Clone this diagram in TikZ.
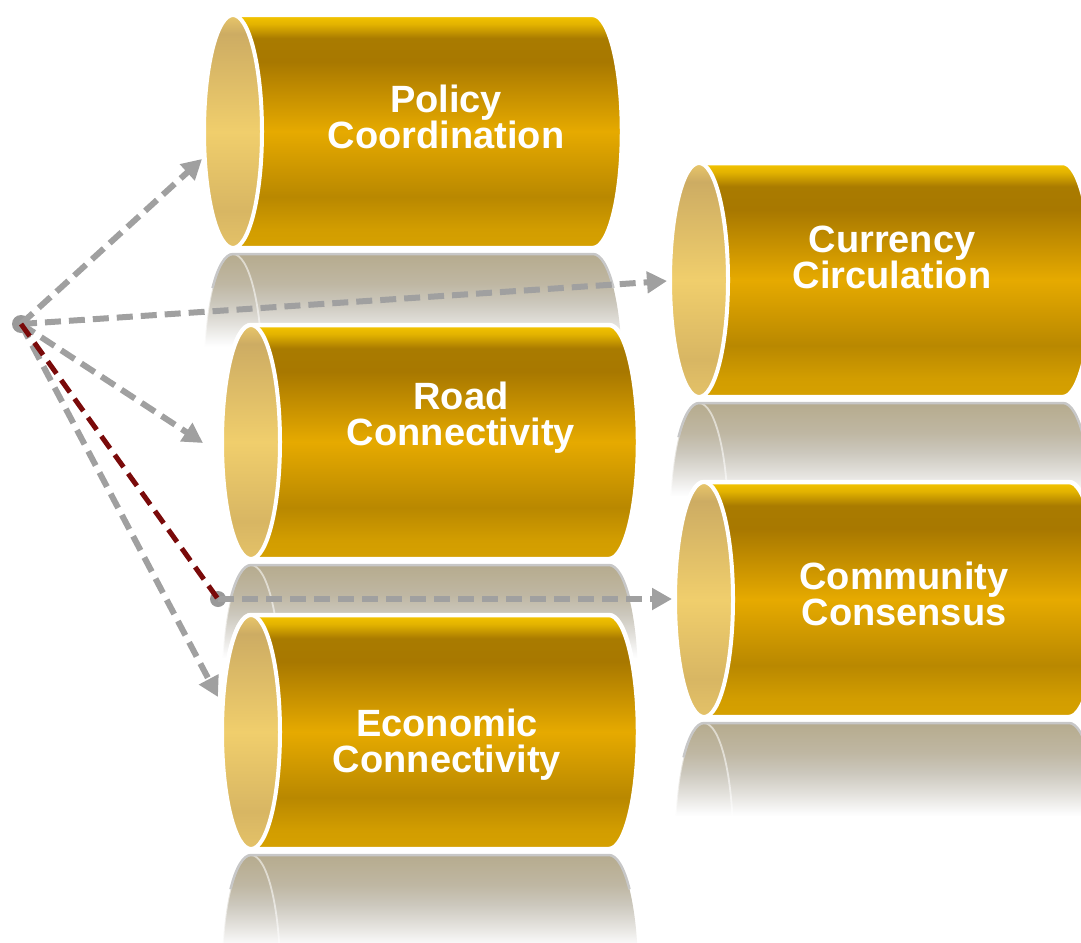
\documentclass[tikz,border=0pt]{standalone}
\usepackage{fontspec}
\setmainfont{Liberation Sans}
\usetikzlibrary{arrows.meta}
\definecolor{arrowgray}{HTML}{A0A0A0}
\definecolor{hubgray}{HTML}{999999}
\definecolor{hubred}{HTML}{7A0A0A}
\definecolor{gA}{HTML}{D6A100}
\definecolor{gB}{HTML}{D29D00}
\definecolor{gC}{HTML}{B98800}
\definecolor{gD}{HTML}{E6AA00}
\definecolor{gE}{HTML}{A87800}
\definecolor{gF}{HTML}{A97B00}
\definecolor{gG}{HTML}{E2B200}
\definecolor{gH}{HTML}{F5C600}
\definecolor{fA}{HTML}{E4C268}
\definecolor{fB}{HTML}{D8B663}
\definecolor{fC}{HTML}{F0CE6C}
\definecolor{fD}{HTML}{CDAC63}
\definecolor{fE}{HTML}{E9C76A}
\definecolor{rA}{HTML}{B5AB8F}
\definecolor{rB}{HTML}{B9AF94}
\definecolor{rC}{HTML}{BFB7A3}
\definecolor{rD}{HTML}{CCC8BD}
\definecolor{rE}{HTML}{E3E1DC}
\definecolor{rF}{HTML}{FAFAFA}
\pgfdeclareverticalshading{goldbody}{100bp}{color(0bp)=(gA); color(25bp)=(gA); color(29bp)=(gB); color(36bp)=(gC); color(50bp)=(gD); color(65bp)=(gE); color(70bp)=(gF); color(73bp)=(gG); color(75bp)=(gH); color(100bp)=(gH)}
\pgfdeclareverticalshading{goldface}{100bp}{color(0bp)=(fA); color(25bp)=(fA); color(33bp)=(fB); color(50bp)=(fC); color(71bp)=(fD); color(75bp)=(fE); color(100bp)=(fE)}
\pgfdeclareverticalshading{reflshade}{100bp}{color(0bp)=(white); color(55bp)=(white); color(56bp)=(rF); color(60bp)=(rE); color(64.4bp)=(rD); color(68.6bp)=(rC); color(73bp)=(rB); color(75bp)=(rA); color(100bp)=(rA)}
\tikzset{
  conn/.style={draw=arrowgray, line width=6pt, dash pattern=on 16pt off 8pt, -{Triangle[length=20pt,width=21pt]}},
  redconn/.style={draw=hubred, line width=5pt, dash pattern=on 15pt off 8pt},
  hubdot/.style={circle, fill=hubgray, inner sep=0pt},
  lbl/.style={text=white, font=\bfseries\fontsize{38}{36}\selectfont, align=center, anchor=base, inner sep=0pt}
}
% #1 left, #2 top, #3 right, #4 bottom, #5 rx  (pixel coords, y downward)
\newcommand\goldcyl[5]{%
  \pgfmathsetmacro\cyA{#1+#5}%
  \pgfmathsetmacro\cyB{#3-#5}%
  \pgfmathsetmacro\cyR{(#4-#2)/2}%
  \pgfmathsetmacro\cyC{-(#2+#4)/2}%
  \shade[shading=goldbody] (\cyA,-#2) -- (\cyB,-#2) arc[start angle=90,end angle=-90,x radius=#5,y radius=\cyR] -- (\cyA,-#4) arc[start angle=270,end angle=90,x radius=#5,y radius=\cyR] -- cycle;
  \draw[white, line width=4.5pt] (\cyA,-#2) -- (\cyB,-#2) arc[start angle=90,end angle=-90,x radius=#5,y radius=\cyR] -- (\cyA,-#4) arc[start angle=270,end angle=90,x radius=#5,y radius=\cyR] -- cycle;
  \shade[shading=goldface] (\cyA,\cyC) ellipse[x radius=#5,y radius=\cyR];
  \draw[white, line width=4pt] (\cyA,\cyC) ellipse[x radius=#5,y radius=\cyR];
}
\newcommand\reflcyl[5]{%
  \pgfmathsetmacro\cyA{#1+#5}%
  \pgfmathsetmacro\cyB{#3-#5}%
  \pgfmathsetmacro\cyR{(#4-#2)/2}%
  \pgfmathsetmacro\cyT{-(#4+6)}%
  \pgfmathsetmacro\cyM{\cyT-\cyR}%
  \pgfmathsetmacro\cyD{\cyT-2*\cyR}%
  \begin{scope}
    \clip (#1-4,\cyT+3) rectangle (#3+4,\cyT-92);
    \shade[shading=reflshade] (\cyA,\cyT) -- (\cyB,\cyT) arc[start angle=90,end angle=-90,x radius=#5,y radius=\cyR] -- (\cyA,\cyD) arc[start angle=270,end angle=90,x radius=#5,y radius=\cyR] -- cycle;
    \draw[white, opacity=0.55, line width=1.8pt] (\cyA,\cyM) ellipse[x radius=#5,y radius=\cyR];
  \end{scope}
  \draw[black!22, line width=2.5pt] (\cyA,\cyT) arc[start angle=90,end angle=135,x radius=#5,y radius=\cyR];
  \draw[black!22, line width=2.5pt] (\cyA,\cyT) -- (\cyB,\cyT) arc[start angle=90,end angle=45,x radius=#5,y radius=\cyR];
}
\begin{document}
\begin{tikzpicture}[x=1pt,y=1pt]
\useasboundingbox (0,0) rectangle (1081,-942);
% reflections
\reflcyl{204}{15}{622}{248}{29}
\reflcyl{670}{163}{1092}{397}{29}
\reflcyl{222}{325}{638}{559}{29}
\reflcyl{222}{615}{638}{849}{29}
\reflcyl{675}{482}{1098}{717}{29}
% cylinders
\goldcyl{204}{15}{622}{248}{29}
\goldcyl{670}{163}{1092}{397}{29}
\goldcyl{222}{325}{638}{559}{29}
\goldcyl{222}{615}{638}{849}{29}
\goldcyl{675}{482}{1098}{717}{29}
% labels (anchor base = baseline of the last line)
\node[lbl] (pol) at (446,-148) {Policy\\Coordination};
\node[lbl] (cur) at (892,-288) {Currency\\Circulation};
\node[lbl] (road) at (461,-445) {Road\\Connectivity};
\node[lbl] (econ) at (447,-772) {Economic\\Connectivity};
\node[lbl] (comm) at (904,-625) {Community\\Consensus};
% connector ends
\coordinate (tPol) at (202,-159);
\coordinate (tCur) at (667,-281);
\coordinate (tRoad) at (203,-443);
\coordinate (tEcon) at (218,-697);
\coordinate (tComm) at (672,-599);
% hub and connectors
\node[hubdot, minimum size=18pt] (hub) at (21,-324) {};
\node[hubdot, minimum size=16pt] (jct) at (218,-599) {};
\draw[conn] (hub.center) -- (tPol);
\draw[conn] (hub.center) -- (tCur);
\draw[conn] (hub.center) -- (tRoad);
\draw[conn] (hub.center) -- (tEcon);
\draw[conn] (jct.center) -- (tComm);
\draw[redconn] (hub.center) -- (jct.center);
\end{tikzpicture}
\end{document}
